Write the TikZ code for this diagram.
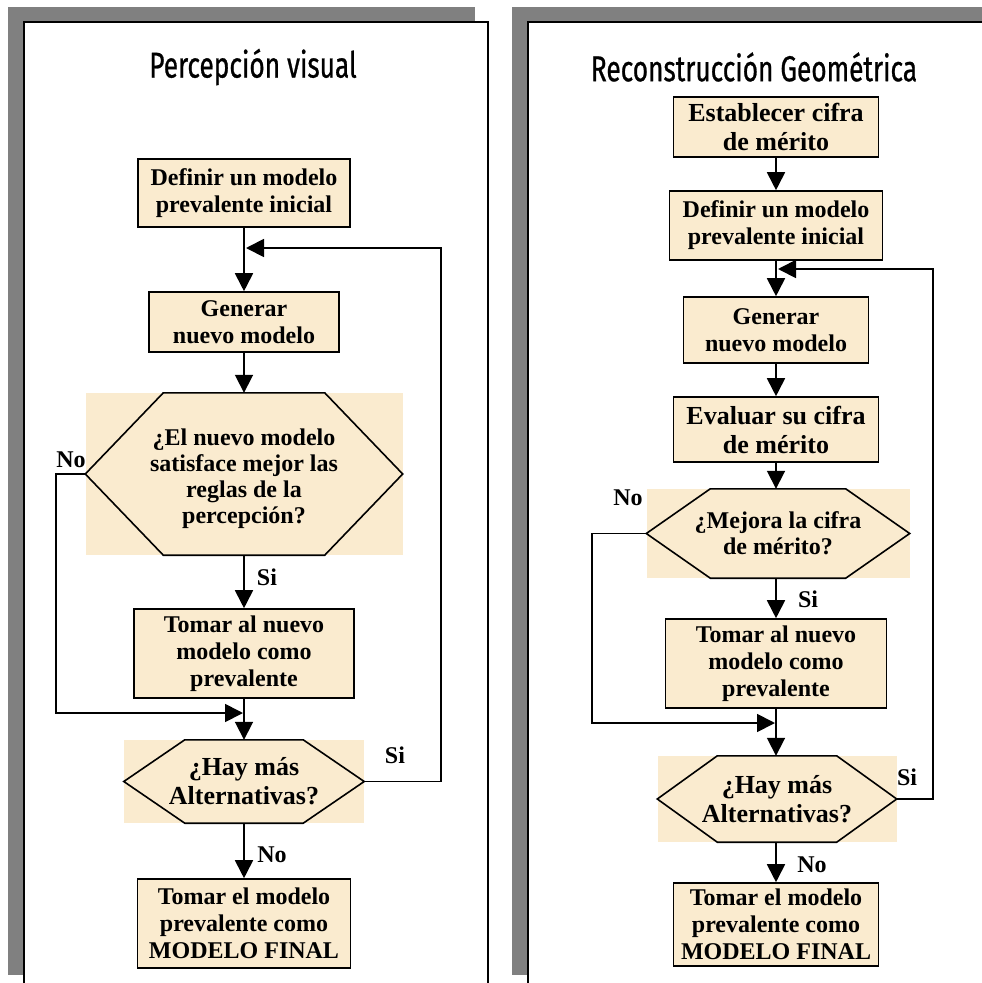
\documentclass[tikz,border=0pt]{standalone}
\usepackage{fontspec}
\setmainfont{Liberation Serif}
\newfontfamily\titlefont[FakeStretch=0.73, FakeBold=0.7]{Fira Sans}
\usetikzlibrary{arrows.meta}
\definecolor{parch}{RGB}{250,235,207}
\definecolor{shadowgray}{RGB}{128,128,128}

% hexagon outline drawn over a filled rectangular node; #2 = horizontal inset of the flat edges
\newcommand\hexoutline[2]{%
  \draw[hexline] (#1.west) -- ([xshift=#2pt]#1.north west) -- ([xshift=-#2pt]#1.north east)
    -- (#1.east) -- ([xshift=-#2pt]#1.south east) -- ([xshift=#2pt]#1.south west) -- cycle;}

\tikzset{
  txt/.style={font=\bfseries\fontsize{24}{27}\selectfont},
  bigtxt/.style={font=\bfseries\fontsize{26}{29}\selectfont},
  box/.style 2 args={draw=black, line width=1.6pt, fill=parch, inner sep=0pt, align=center,
    minimum width=#1pt, minimum height=#2pt, txt},
  hexfill/.style 2 args={fill=parch, inner sep=0pt, align=center,
    minimum width=#1pt, minimum height=#2pt, txt},
  hexline/.style={line width=1.6pt, draw=black, line join=miter},
  flow/.style={line width=1.8pt, draw=black, -{Triangle[length=18pt,width=18pt]}},
  lbl/.style={inner sep=0pt, txt},
  title/.style={inner sep=0pt, font=\titlefont\fontsize{36}{40}\selectfont},
  frame/.style={line width=1.8pt, draw=black}
}

\begin{document}
\begin{tikzpicture}[x=1pt,y=-1pt]
\useasboundingbox (0,0) rectangle (982,983);
\clip (0,0) rectangle (982,983);
\fill[white] (0,0) rectangle (982,983);

% panel frames with offset grey shadow
\fill[shadowgray] (8,7) rectangle (475,975);
\fill[white] (24,22) rectangle (488,1000);
\draw[frame] (24,1000) -- (24,22) -- (488,22) -- (488,1000);

\fill[shadowgray] (512,7) rectangle (1000,975);
\fill[white] (528,22) rectangle (1010,1000);
\draw[frame] (528,1000) -- (528,22) -- (1010,22);

% ---------- left flowchart ----------
\node[title] (tl) at (253,67) {Percepción visual};

\node[box={212}{68}] (l1) at (244,193) {Definir un modelo\\prevalente inicial};
\node[box={190}{60}] (l2) at (244,322) {Generar\\nuevo modelo};
\node[hexfill={317}{162}] (hl1) at (244,474) {};
\hexoutline{hl1}{78}
\node[align=center, inner sep=0pt, font=\bfseries\fontsize{24}{26}\selectfont] (hl1t) at (244,478.5)
  {¿El nuevo modelo\\satisface mejor las\\reglas de la\\percepción?};
\node[box={220}{89}] (l3) at (244,653.5) {Tomar al nuevo\\modelo como\\prevalente};
\node[hexfill={240}{83}, bigtxt] (hl2) at (244,781.5) {¿Hay más\\Alternativas?};
\hexoutline{hl2}{61}
\node[box={213}{89}] (l4) at (244,923.5) {Tomar el modelo\\prevalente como\\MODELO FINAL};

\coordinate (lj) at (246,248);
\coordinate (lm) at (243,713);

\draw[flow] (l1) -- (l2);
\draw[flow] (l2) -- (hl1);
\draw[flow] (hl1) -- (l3);
\draw[flow] (l3) -- (hl2);
\draw[flow] (hl2) -- (l4);
\draw[flow] (hl1.west) -- ++(-29,0) |- (lm);
\draw[flow] (hl2.east) -- ++(77,0) |- (lj);

\node[lbl] (lno1) at (71,460) {No};
\node[lbl] (lsi1) at (267,577) {Si};
\node[lbl] (lsi2) at (395,755) {Si};
\node[lbl] (lno2) at (272,855) {No};

% ---------- right flowchart ----------
\node[title] (tr) at (754,67) {Reconstrucción Geométrica};

\node[box={205}{60}, bigtxt] (r1) at (776,127) {Establecer cifra\\de mérito};
\node[box={213}{69}] (r2) at (776,225.5) {Definir un modelo\\prevalente inicial};
\node[box={185}{66}] (r3) at (776,330) {Generar\\nuevo modelo};
\node[box={205}{65}, bigtxt] (r4) at (776,429.5) {Evaluar su cifra\\de mérito};
\node[hexfill={263}{89}, font=\bfseries\fontsize{24}{26}\selectfont] (hr1) at (778,533.5)
  {¿Mejora la cifra\\de mérito?};
\hexoutline{hr1}{64}
\node[box={221}{89}] (r5) at (776,663.5) {Tomar al nuevo\\modelo como\\prevalente};
\node[hexfill={239}{86}, bigtxt] (hr2) at (777,799) {¿Hay más\\Alternativas?};
\hexoutline{hr2}{60}
\node[box={205}{83}] (r6) at (776,924.5) {Tomar el modelo\\prevalente como\\MODELO FINAL};

\coordinate (rj) at (778,269);
\coordinate (rm) at (775,723);

\draw[flow] (r1) -- (r2);
\draw[flow] (r2.south) -- (r3.north);
\draw[flow] (r3) -- (r4);
\draw[flow] (r4.south) -- (r4.south |- hr1.north);
\draw[flow] (hr1.south -| r5) -- (r5.north);
\draw[flow] (r5) -- (r5 |- hr2.north);
\draw[flow] (hr2.south -| r6) -- (r6.north);
\draw[flow] (hr1.west) -- ++(-54,0) |- (rm);
\draw[flow] (hr2.east) -- ++(36,0) |- (rj);

\node[lbl] (rno1) at (628,498) {No};
\node[lbl] (rsi1) at (808,599) {Si};
\node[lbl] (rsi2) at (907,777) {Si};
\node[lbl] (rno2) at (812,865) {No};
\end{tikzpicture}
\end{document}
